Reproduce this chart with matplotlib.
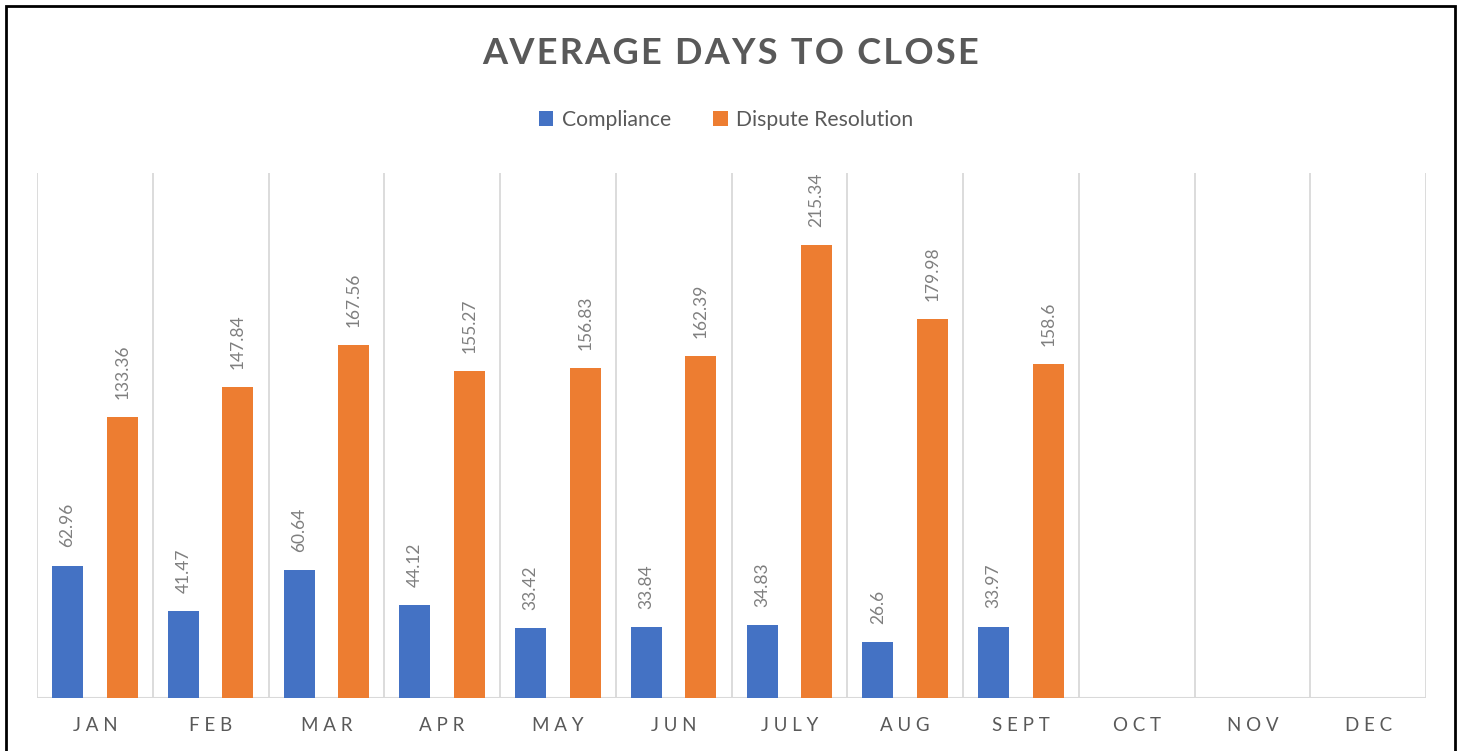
import matplotlib.pyplot as plt
import numpy as np
from matplotlib.patches import Rectangle

# donnees
mois = ["JAN", "FEB", "MAR", "APR", "MAY", "JUN", "JULY", "AUG", "SEPT", "OCT", "NOV", "DEC"]
compliance = [62.96, 41.47, 60.64, 44.12, 33.42, 33.84, 34.83, 26.6, 33.97]
dispute = [133.36, 147.84, 167.56, 155.27, 156.83, 162.39, 215.34, 179.98, 158.6]

bleu = "#4472C4"
orange = "#ED7D31"
gris_grille = "#D9D9D9"

plt.rcParams['font.family'] = ['Lato', 'DejaVu Sans']

fig = plt.figure(figsize=(14.61, 7.51), dpi=100)
ax = fig.add_axes([37/1461, 1-698/751, (1426-37)/1461, (698-173)/751])

x = np.arange(len(compliance))
largeur = 0.268
decal = 0.236
b1 = ax.bar(x - decal, compliance, largeur, color=bleu, label="Compliance")
b2 = ax.bar(x + decal, dispute, largeur, color=orange, label="Dispute Resolution")

# etiquettes des valeurs, verticales
for barres in (b1, b2):
    for r in barres:
        h = r.get_height()
        ax.annotate(f"{h:g}", (r.get_x() + r.get_width()/2, h), xytext=(0, 13),
                    textcoords="offset points", rotation=90, ha="center", va="bottom",
                    fontsize=12.5, color="#7F7F7F")

ax.set_xlim(-0.5, len(mois) - 0.5)
ax.set_ylim(0, 249.5)
for xv in np.arange(-0.5, len(mois), 1):
    ax.axvline(xv, color=gris_grille, lw=1.3, zorder=0)
for s in ax.spines.values():
    s.set_visible(False)
ax.axhline(0, color=gris_grille, lw=1.5, zorder=0)
ax.set_yticks([])
ax.set_xticks(range(len(mois)))
ax.set_xticklabels([" ".join(m) for m in mois], fontsize=13.5, color="#595959")
ax.tick_params(axis="x", length=0, pad=14)

# titre avec un leger espacement des lettres
titre = "AVERAGE DAYS TO CLOSE"
fig.text(0.5, 1-53/751, "\u200a".join(titre), ha="center", va="center",
         fontsize=26, fontweight="bold", color="#595959")
fig.legend(handles=[b1, b2], loc="center", bbox_to_anchor=(0.497, 1-120/751), ncol=2,
           frameon=False, fontsize=15.2, handlelength=0.7, handleheight=0.7,
           handletextpad=0.4, columnspacing=2.0, labelcolor="#595959")

# cadre noir autour de l'image
fig.patches.append(Rectangle((6/1461, -0.01), (1455-6)/1461, 1.01 - 6/751,
                             transform=fig.transFigure, fill=False, edgecolor="black", lw=2))

fig.savefig("out.png", dpi=100)
